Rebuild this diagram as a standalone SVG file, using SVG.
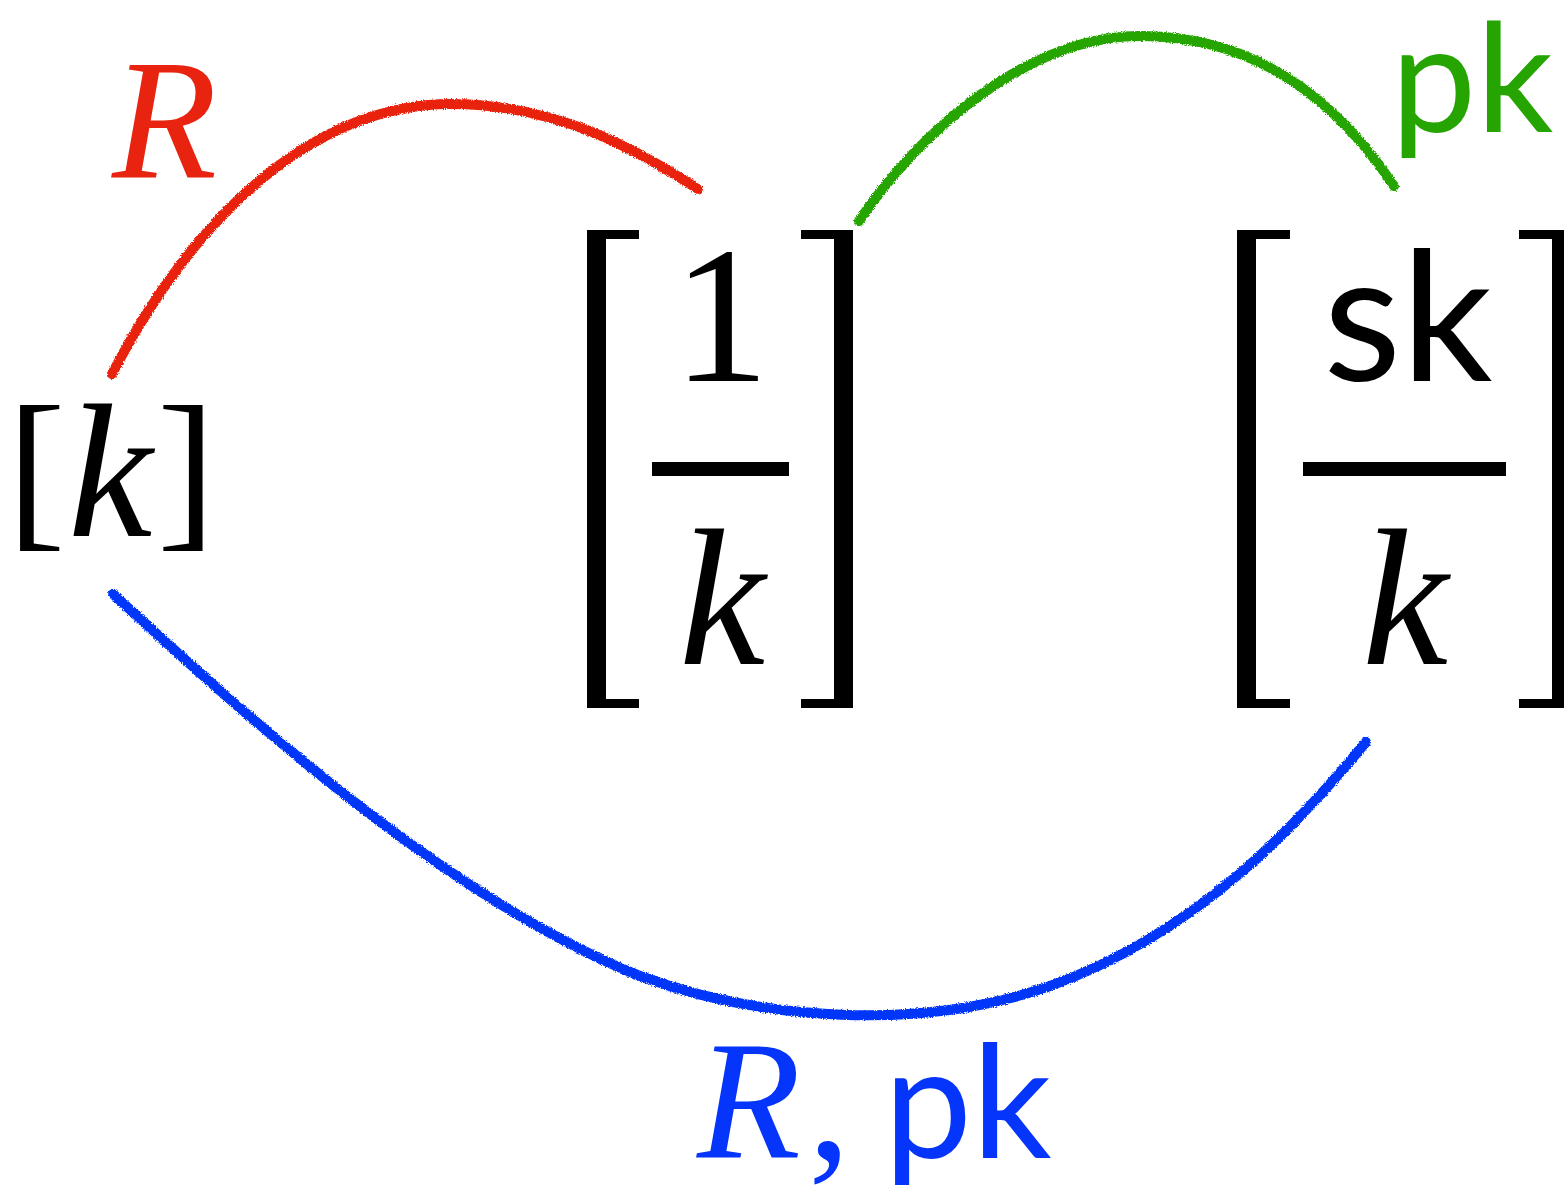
<svg xmlns="http://www.w3.org/2000/svg" width="1564" height="1193" viewBox="0 0 1564 1193">
<style>
.crayon{fill:none;stroke-width:10;stroke-linecap:round;filter:url(#rough);}
.blk{fill:#000;}
</style>
<defs>
<filter id="rough" x="-10%" y="-10%" width="120%" height="120%">
<feTurbulence type="fractalNoise" baseFrequency="0.9" numOctaves="2" seed="3" result="n"/>
<feDisplacementMap in="SourceGraphic" in2="n" scale="4" xChannelSelector="R" yChannelSelector="G"/>
</filter>
</defs>
<rect width="1564" height="1193" fill="#fff"/>
<g id="connectors">
<path id="edge-R" class="crayon" stroke="#E8230F" d="M112,374 C200,205 320,105 450,104 C560,104 640,152 698,189"/>
<path id="edge-pk" class="crayon" stroke="#25A402" d="M859,221 C920,130 1030,36 1140,36 C1260,36 1340,105 1394,186"/>
<path id="edge-Rpk" class="crayon" stroke="#0535FA" d="M113,594 C250,720 450,900 640,976 C760,1020 920,1032 1050,986 C1200,932 1300,822 1366,742"/>
</g>
<g id="label-R"><text font-family="'Liberation Serif', 'Times New Roman', serif" font-style="italic" x="112" y="177" font-size="172" fill="#E8230F">R</text></g>
<g id="label-pk"><text font-family="Lato, 'Open Sans', sans-serif" x="1391" y="132" font-size="152" fill="#25A402">pk</text></g>
<g id="label-Rpk">
<text font-family="'Liberation Serif', 'Times New Roman', serif" font-style="italic" x="697" y="1158" font-size="170" fill="#0535FA">R</text>
<text font-family="'Liberation Serif', 'Times New Roman', serif" x="808" y="1158" font-size="170" fill="#0535FA">,</text>
<text font-family="Lato, 'Open Sans', sans-serif" x="884" y="1158" font-size="157" fill="#0535FA">pk</text>
</g>
<g id="node-k">
<text font-family="'Liberation Serif', 'Times New Roman', serif" x="7" y="527" font-size="176">[</text>
<text font-family="'Liberation Serif', 'Times New Roman', serif" font-style="italic" x="68" y="536" font-size="190">k</text>
<text font-family="'Liberation Serif', 'Times New Roman', serif" x="157" y="527" font-size="176">]</text>
</g>
<g id="node-one-over-k">
<path class="blk" d="M587,230 H639 V239 H606 V699 H639 V708 H587 Z"/>
<path class="blk" d="M853,230 H801 V239 H834 V699 H801 V708 H853 Z"/>
<text font-family="'Liberation Serif', 'Times New Roman', serif" x="721" y="381" font-size="194" text-anchor="middle">1</text>
<rect class="blk" x="652" y="462" width="137" height="14"/>
<text font-family="'Liberation Serif', 'Times New Roman', serif" font-style="italic" x="722" y="664" font-size="194" text-anchor="middle">k</text>
</g>
<g id="node-sk-over-k">
<path class="blk" d="M1237,230 H1290 V239 H1256 V699 H1290 V708 H1237 Z"/>
<path class="blk" d="M1571,230 H1519 V239 H1552 V699 H1519 V708 H1571 Z"/>
<text font-family="Lato, 'Open Sans', sans-serif" x="1408" y="381" font-size="180" text-anchor="middle">sk</text>
<rect class="blk" x="1303" y="462" width="203" height="14"/>
<text font-family="'Liberation Serif', 'Times New Roman', serif" font-style="italic" x="1405" y="664" font-size="194" text-anchor="middle">k</text>
</g>
</svg>
